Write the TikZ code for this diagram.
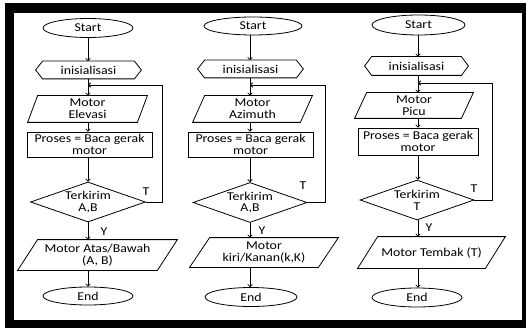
\documentclass[tikz,border=0pt]{standalone}
\usepackage{fontspec}
\setmainfont{Carlito}[FakeStretch=1.15]
\usetikzlibrary{shapes.geometric,arrows.meta}
\newcommand\drawpara[2]{\draw ([xshift=#2]#1.north west) -- ([xshift=#2]#1.north east) -- ([xshift=-#2]#1.south east) -- ([xshift=-#2]#1.south west) -- cycle;}
\newcommand\drawhex[2]{\draw (#1.west) -- ([xshift=#2]#1.north west) -- ([xshift=-#2]#1.north east) -- (#1.east) -- ([xshift=-#2]#1.south east) -- ([xshift=#2]#1.south west) -- cycle;}
\begin{document}
\begin{tikzpicture}[x=1pt,y=-1pt,line width=0.8pt,
  txt/.style={font=\fontsize{12}{11.7}\selectfont,align=center,inner sep=0pt},
  term/.style={txt,ellipse,draw},
  io/.style={txt,rectangle},
  prep/.style={txt,rectangle},
  proc/.style={txt,rectangle,draw},
  dec/.style={txt,diamond,draw,aspect=2.9},
  lbl/.style={txt},
  arr/.style={-{To[length=3pt,width=5pt]}}]
\useasboundingbox (0,0) rectangle (526,331);
\fill[white] (0,0) rectangle (526,331);
\fill[black] (5,3) rectangle (526,328);
\fill[white] (14,13) rectangle (522,320);

% column 1
\coordinate (x1) at (88,0);
\node[term,minimum width=90pt,minimum height=19pt] (s1) at (88,28) {Start};
\node[prep,minimum width=105pt,minimum height=17pt] (i1) at (88.5,70) {inisialisasi}; \drawhex{i1}{7pt}
\node[io,minimum width=109pt,minimum height=26pt] (m1) at (87.5,109) {Motor\\Elevasi}; \drawpara{m1}{5pt}
\node[proc,minimum width=125pt,minimum height=25pt] (p1) at (89.5,144.5) {Proses = Baca gerak\\motor};
\node[dec,minimum width=115pt,minimum height=40pt] (d1) at (88,202) {Terkirim\\A,B};
\node[io,minimum width=139pt,minimum height=30pt] (o1) at (97.5,255) {Motor Atas/Bawah\\(A, B)}; \drawpara{o1}{10pt}
\node[term,minimum width=90pt,minimum height=18pt] (e1) at (88,296) {End};
\node[lbl] (t1) at (146,192) {T};
\node[lbl] (y1) at (104,232) {Y};
\coordinate (j1) at (88,85);
\coordinate (c1) at (162,85);
\draw[arr] (s1.south -| x1) -- (i1.north -| x1);
\draw[arr] (i1.south -| x1) -- (m1.north -| x1);
\draw[arr] (m1.south -| x1) -- (p1.north -| x1);
\draw[arr] (p1.south -| x1) -- (d1.north -| x1);
\draw[arr] (d1.south -| x1) -- (o1.north -| x1);
\draw[arr] (o1.south -| x1) -- (e1.north -| x1);
\draw[arr] (d1.east) -| (c1) -- (j1);

% column 2
\coordinate (x2) at (250,0);
\node[term,minimum width=98pt,minimum height=18pt] (s2) at (253,26) {Start};
\node[prep,minimum width=105pt,minimum height=17pt] (i2) at (250.5,69) {inisialisasi}; \drawhex{i2}{7pt}
\node[io,minimum width=107pt,minimum height=26pt] (m2) at (252.5,109) {Motor\\Azimuth}; \drawpara{m2}{6pt}
\node[proc,minimum width=125pt,minimum height=25pt] (p2) at (250.5,144.5) {Proses = Baca gerak\\motor};
\node[dec,minimum width=114pt,minimum height=40pt] (d2) at (250,202.5) {Terkirim\\A,B};
\node[io,minimum width=128pt,minimum height=29pt] (o2) at (264,252.5) {Motor\\kiri/Kanan(k,K)}; \drawpara{o2}{10pt}
\node[term,minimum width=92pt,minimum height=19pt] (e2) at (251,297) {End};
\node[lbl] (t2) at (303,186) {T};
\node[lbl] (y2) at (262,231) {Y};
\coordinate (j2) at (250,85);
\coordinate (c2) at (325,85);
\draw[arr] (s2.south -| x2) -- (i2.north -| x2);
\draw[arr] (i2.south -| x2) -- (m2.north -| x2);
\draw[arr] (m2.south -| x2) -- (p2.north -| x2);
\draw[arr] (p2.south -| x2) -- (d2.north -| x2);
\draw[arr] (d2.south -| x2) -- (o2.north -| x2);
\draw[arr] (o2.south -| x2) -- (e2.north -| x2);
\draw[arr] (d2.east) -| (c2) -- (j2);

% column 3
\coordinate (x3) at (418,0);
\node[term,minimum width=93pt,minimum height=20pt] (s3) at (418.5,25) {Start};
\node[prep,minimum width=103pt,minimum height=18pt] (i3) at (416.5,66) {inisialisasi}; \drawhex{i3}{7pt}
\node[io,minimum width=106pt,minimum height=25pt] (m3) at (414,105.5) {Motor\\Picu}; \drawpara{m3}{6pt}
\node[proc,minimum width=120pt,minimum height=27pt] (p3) at (418,141.5) {Proses = Baca gerak\\motor};
\node[dec,minimum width=114pt,minimum height=40pt] (d3) at (417,200) {Terkirim\\T};
\node[io,minimum width=127pt,minimum height=31pt] (o3) at (431.5,252.5) {Motor Tembak (T)}; \drawpara{o3}{10pt}
\node[term,minimum width=90pt,minimum height=19pt] (e3) at (417,297.5) {End};
\node[lbl] (t3) at (474,189) {T};
\node[lbl] (y3) at (429,228) {Y};
\coordinate (j3) at (418,83);
\coordinate (c3) at (492,83);
\draw[arr] (s3.south -| x3) -- (i3.north -| x3);
\draw[arr] (i3.south -| x3) -- (m3.north -| x3);
\draw[arr] (m3.south -| x3) -- (p3.north -| x3);
\draw[arr] (p3.south -| x3) -- (d3.north -| x3);
\draw[arr] (d3.south -| x3) -- (o3.north -| x3);
\draw[arr] (o3.south -| x3) -- (e3.north -| x3);
\draw[arr] (d3.east) -| (c3) -- (j3);
\end{tikzpicture}
\end{document}
